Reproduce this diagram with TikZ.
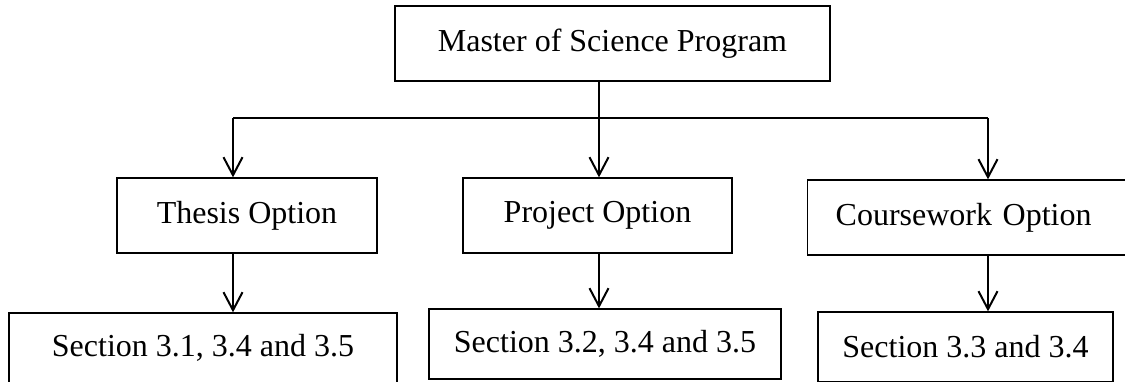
\documentclass[tikz,border=0pt]{standalone}
\usepackage{fontspec}
\setmainfont{Liberation Serif}
\usetikzlibrary{arrows.meta}

\begin{document}
\begin{tikzpicture}[x=0.5pt,y=-0.5pt,
    box/.style={draw,line width=0.65pt,inner sep=0pt,minimum height=37.5pt,font=\fontsize{16}{19}\selectfont},
    link/.style={line width=1.2pt},
    arr/.style={link,-{Straight Barb[length=9pt,width=9.5pt,line width=1pt]}}]
        \useasboundingbox (0,0) rectangle (1125,381);
        \node[box,minimum width=217.5pt] (master) at (612.5,43.5) {Master of Science Program};
        \node[box,minimum width=130pt] (thesis) at (247,215.5) {Thesis Option};
        \node[box,minimum width=134.5pt] (project) at (597.5,215.5) {Project Option};
        \node[box,anchor=west,inner xsep=14pt,text width=133.5pt,align=left] (course) at (807,217.5) {Coursework Option};
        \node[box,minimum width=194pt,minimum height=35pt] (secA) at (203,348) {Section 3.1, 3.4 and 3.5};
        \node[box,minimum width=176pt,minimum height=35pt] (secB) at (605,344) {Section 3.2, 3.4 and 3.5};
        \node[box,minimum width=147.5pt,minimum height=35pt] (secC) at (965.5,347) {Section 3.3 and 3.4};
        % branching bar
        \coordinate (jt) at (233,118);
        \coordinate (jp) at (599,118);
        \coordinate (jc) at (988,118);
        \draw[link] (master.south -| jp) -- (jp);
        \draw[link] (jt) -- (jc);
        \draw[arr] (jt) -- (jt |- thesis.north);
        \draw[arr] (jp) -- (jp |- project.north);
        \draw[arr] (jc) -- (jc |- course.north);
        \draw[arr] (thesis.south -| jt) -- (jt |- secA.north);
        \draw[arr] (project.south -| jp) -- (jp |- secB.north);
        \draw[arr] (course.south -| jc) -- (jc |- secC.north);
    \end{tikzpicture}
\end{document}
